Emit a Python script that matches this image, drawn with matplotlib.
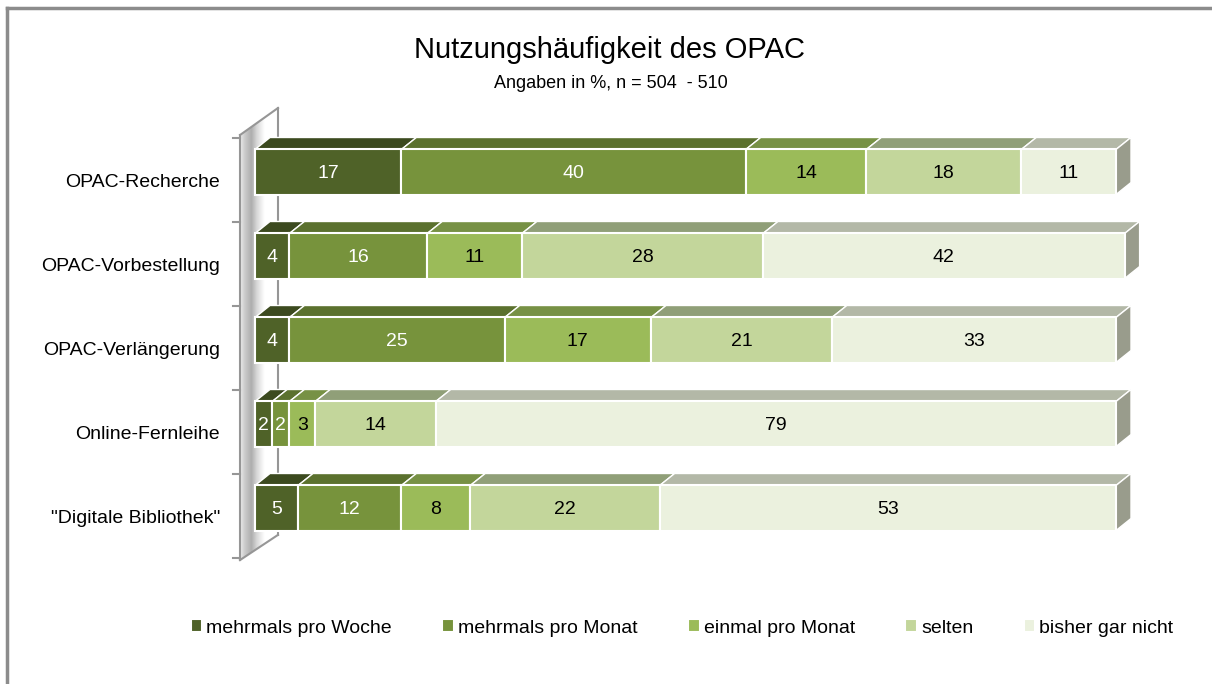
import numpy as np
import matplotlib
matplotlib.use('Agg')
import matplotlib.pyplot as plt
from matplotlib.patches import Polygon
from matplotlib.lines import Line2D

plt.rcParams['font.family'] = ['Liberation Sans Narrow', 'Liberation Sans', 'DejaVu Sans']

# data
categories = ['OPAC-Recherche', 'OPAC-Vorbestellung', 'OPAC-Verlängerung',
              'Online-Fernleihe', '"Digitale Bibliothek"']
series = ['mehrmals pro Woche', 'mehrmals pro Monat', 'einmal pro Monat',
          'selten', 'bisher gar nicht']
woche = [17, 4, 4, 2, 5]
monat_mehr = [40, 16, 25, 2, 12]
monat_einmal = [14, 11, 17, 3, 8]
selten = [18, 28, 21, 14, 22]
gar_nicht = [11, 42, 33, 79, 53]
values = [woche, monat_mehr, monat_einmal, selten, gar_nicht]

front_cols = ['#4f6228', '#77933c', '#9bbb59', '#c3d69b', '#ebf1de']
top_cols = ['#3c4a1f', '#5b712e', '#779145', '#909f78', '#b3b8a7']
side_col = '#999c8c'
label_cols = ['white', 'white', 'black', 'black', 'black']

W, H = 1212, 684
PX = 8.61   # pixels per percent
PY = 84     # pixels per category
x0, x1 = -6, 100
y0, y1 = -0.8, 4.7
fig = plt.figure(figsize=(W / 100, H / 100), dpi=100)
# 0 % sits at px 255, category 0 at px 172
ax_left = 255 + x0 * PX
ax_top = 172 + y0 * PY
ax_w = (x1 - x0) * PX
ax_h = (y1 - y0) * PY
ax = fig.add_axes([ax_left / W, (H - ax_top - ax_h) / H, ax_w / W, ax_h / H])
ax.axis('off')

h = 0.536          # front face height
dx = 15 / PX       # depth offset in x units
dy = 12 / PY       # depth offset in y units

# side wall
wx0, wx1 = -15 / PX, 23 / PX
wall = Polygon([(wx0, -0.44), (wx1, -0.762), (wx1, 4.32), (wx0, 4.62)],
               closed=True, facecolor='none', edgecolor='none')
ax.add_patch(wall)
grad = np.interp(np.linspace(0, 1, 200), [0, 0.12, 0.3, 0.45, 0.65, 1],
                 [0.93, 0.8, 0.68, 0.85, 1.0, 1.0])
img = ax.imshow(np.tile(grad, (10, 1)), cmap='gray', vmin=0, vmax=1,
                extent=[wx0, wx1, 4.62, -0.762], aspect='auto', zorder=1,
                interpolation='bilinear')
img.set_clip_path(wall)
lc = '#969696'
ax.plot([wx0, wx0], [-0.44, 4.62], color=lc, lw=1.5, clip_on=False, zorder=2)
ax.plot([wx1, wx1], [-0.762, 4.32], color=lc, lw=1.5, clip_on=False, zorder=2)
ax.plot([wx0, wx1], [-0.44, -0.762], color=lc, lw=1.5, clip_on=False, zorder=2)
ax.plot([wx0, wx1], [4.62, 4.32], color=lc, lw=1.5, clip_on=False, zorder=2)
for k in range(6):
    ax.plot([wx0 - 7 / PX, wx0], [k - 0.4, k - 0.4], color=lc, lw=1.5,
            clip_on=False, zorder=2)

ax.set_xlim(x0, x1)
ax.set_ylim(y1, y0)

y = np.arange(len(categories))
left = np.zeros(len(categories))
for s, vals in enumerate(values):
    vals = np.array(vals, dtype=float)
    ax.barh(y, vals, left=left, height=h, color=front_cols[s],
            edgecolor='white', linewidth=1.5, label=series[s],
            zorder=3, clip_on=False)
    for i in range(len(categories)):
        l, r = left[i], left[i] + vals[i]
        t = y[i] - h / 2
        ax.add_patch(Polygon([(l, t), (r, t), (r + dx, t - dy), (l + dx, t - dy)],
                             closed=True, facecolor=top_cols[s],
                             edgecolor='white', linewidth=1, zorder=2.5,
                             clip_on=False))
        ax.text((l + r) / 2, y[i] + 0.02, str(int(vals[i])), ha='center',
                va='center', fontsize=14, color=label_cols[s], zorder=5)
    left = left + vals

for i in range(len(categories)):
    r = left[i]
    t, b = y[i] - h / 2, y[i] + h / 2
    ax.add_patch(Polygon([(r, t), (r + dx, t - dy), (r + dx, b - dy), (r, b)],
                         closed=True, facecolor=side_col, edgecolor='white',
                         linewidth=1, zorder=2.5, clip_on=False))
    ax.text(-35 / PX, y[i] + 0.13, categories[i], ha='right', va='center',
            fontsize=14, color='black')

fig.text(610 / W, 1 - 50 / H, 'Nutzungshäufigkeit des OPAC', ha='center',
         va='center', fontsize=21)
fig.text(611 / W, 1 - 83 / H, 'Angaben in %, n = 504  - 510', ha='center',
         va='center', fontsize=13)

handles, labels = ax.get_legend_handles_labels()
fig.legend(handles, labels, loc='center', bbox_to_anchor=(682 / W, 1 - 628 / H),
           ncol=5, frameon=False, fontsize=14, handlelength=0.6,
           handleheight=0.6, handletextpad=0.2, columnspacing=2.6)

# outer frame
fig.add_artist(Line2D([7 / W, 7 / W], [0, 1 - 8 / H], color='#8c8c8c', lw=2.5))
fig.add_artist(Line2D([7 / W, 1], [1 - 8 / H, 1 - 8 / H], color='#8c8c8c', lw=2.5))

fig.savefig('out.png', dpi=100)
